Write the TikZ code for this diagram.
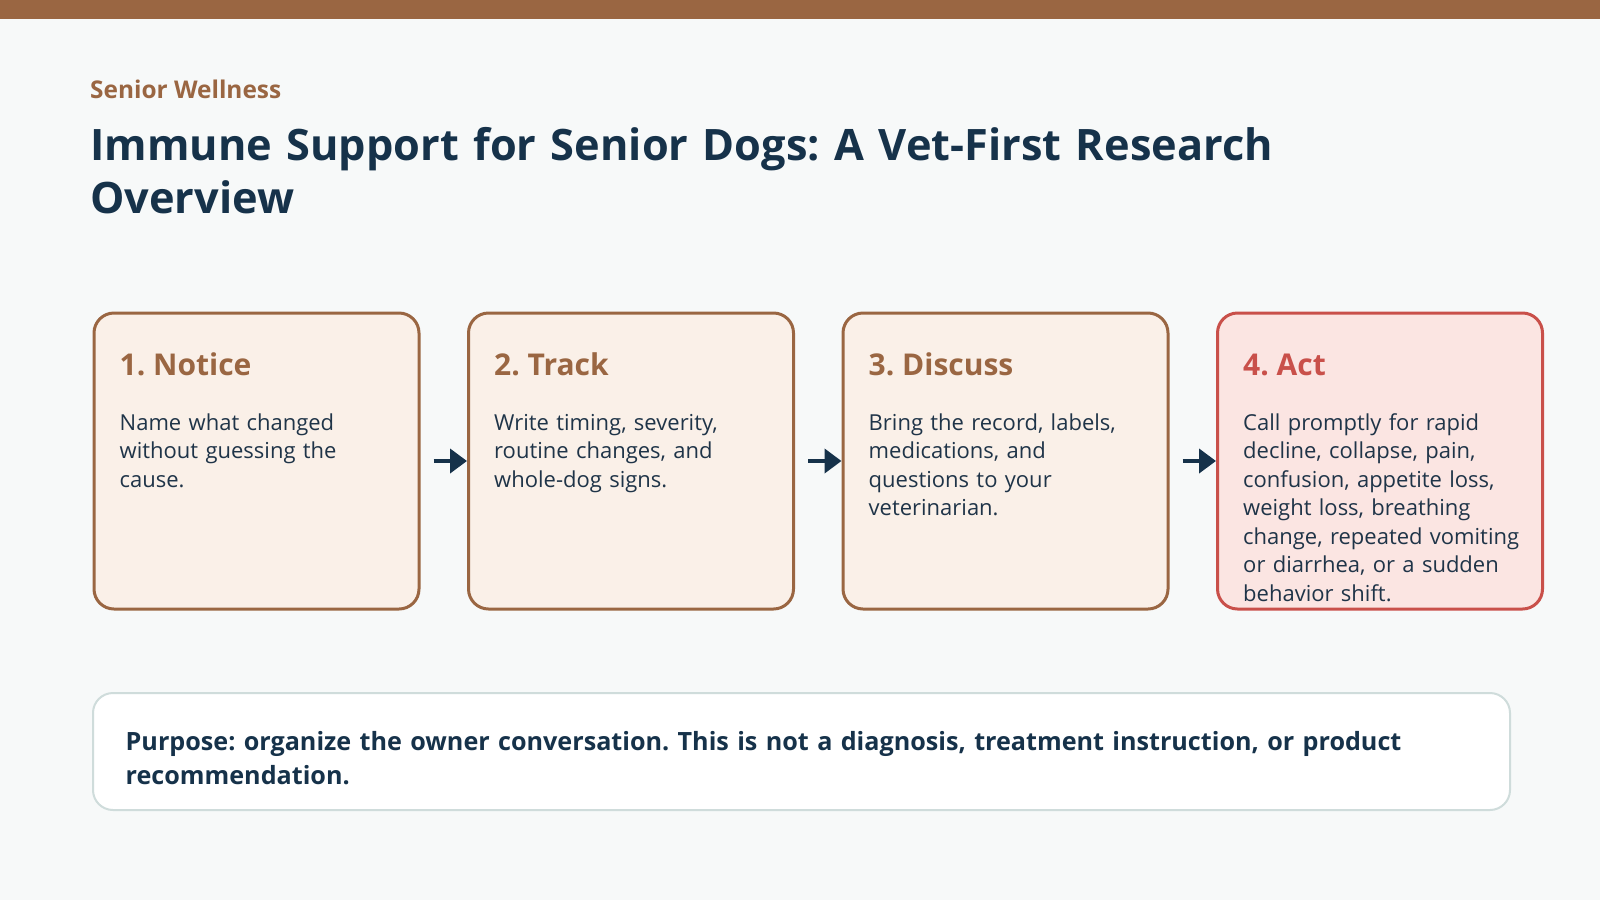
\documentclass[tikz,border=0pt]{standalone}
\usepackage{fontspec}
\setmainfont{Open Sans}
\usetikzlibrary{positioning,arrows.meta,calc}
\definecolor{bark}{HTML}{9A6642}
\definecolor{navy}{HTML}{16324A}
\definecolor{ink}{HTML}{1F3448}
\definecolor{paper}{HTML}{F7F9F9}
\definecolor{peach}{HTML}{FAF0E8}
\definecolor{alert}{HTML}{C9504A}
\definecolor{blush}{HTML}{FBE5E2}
\definecolor{mist}{HTML}{CFDCDB}
\frenchspacing

\begin{document}
\begin{tikzpicture}[x=1pt,y=-1pt,
    stepbox/.style={draw=bark, fill=peach, line width=3pt, rounded corners=20pt,
                    minimum width=325pt, minimum height=296pt, anchor=north west,
                    inner sep=0pt},
    actbox/.style={stepbox, draw=alert, fill=blush},
    head/.style={anchor=base west, inner sep=0pt, text=bark,
                 font=\fontsize{30}{36}\selectfont\bfseries},
    body/.style={anchor=base west, inner sep=0pt, text width=320pt, align=left,
                 text=ink, font=\fontsize{22}{28.5}\selectfont},
    arr/.style={-{Triangle[length=17pt,width=24pt]}, line width=4pt, draw=navy}]
  % page
  \useasboundingbox (0,0) rectangle (1600,900);
  \fill[paper] (0,0) rectangle (1600,900);
  \fill[bark] (0,0) rectangle (1600,19);
  % heading
  \node[anchor=base west, inner sep=0pt, text=bark,
        font=\fontsize{24.4}{28}\selectfont\bfseries] (kicker) at (90,98) {Senior Wellness};
  \node[anchor=base west, inner sep=0pt, text=navy, text width=1400pt, align=left,
        font=\fontsize{43.3}{53}\selectfont\bfseries] (title) at (90,160)
        {Immune Support for Senior Dogs: A Vet-First Research\\Overview};
  % steps
  \node[stepbox] (notice)  at (92.5,311.5)   {};
  \node[stepbox] (track)   at (467,311.5)    {};
  \node[stepbox] (discuss) at (841.5,311.5)  {};
  \node[actbox]  (act)     at (1216,311.5)   {};
  \node[head] (noticeH)  at ([xshift=27pt,yshift=-63.5pt]notice.north west)  {1. Notice};
  \node[head] (trackH)   at ([xshift=27pt,yshift=-63.5pt]track.north west)   {2. Track};
  \node[head] (discussH) at ([xshift=27pt,yshift=-63.5pt]discuss.north west) {3. Discuss};
  \node[head, text=alert] (actH) at ([xshift=27pt,yshift=-63.5pt]act.north west) {4. Act};
  \node[body] (noticeB) at ([xshift=27pt,yshift=-118.5pt]notice.north west)
    {Name what changed\\without guessing the\\cause.};
  \node[body] (trackB) at ([xshift=27pt,yshift=-118.5pt]track.north west)
    {Write timing, severity,\\routine changes, and\\whole-dog signs.};
  \node[body] (discussB) at ([xshift=27pt,yshift=-118.5pt]discuss.north west)
    {Bring the record, labels,\\medications, and\\questions to your\\veterinarian.};
  \node[body] (actB) at ([xshift=27pt,yshift=-118.5pt]act.north west)
    {Call promptly for rapid\\decline, collapse, pain,\\confusion, appetite loss,\\weight loss, breathing\\change, repeated vomiting\\or diarrhea, or a sudden\\behavior shift.};
  \draw[arr] ([xshift=13pt]notice.east)  -- (track.west);
  \draw[arr] ([xshift=13pt]track.east)   -- (discuss.west);
  \draw[arr] ([xshift=13pt]discuss.east) -- (act.west);
  % note
  \node[draw=mist, fill=white, line width=2pt, rounded corners=20pt, anchor=north west,
        minimum width=1417pt, minimum height=117pt, inner sep=0pt] (note) at (92,692) {};
  \node[anchor=base west, inner sep=0pt, text=navy, text width=1360pt, align=left,
        font=\fontsize{25.15}{34}\selectfont\bfseries] (noteT)
        at ([xshift=33.5pt,yshift=-58pt]note.north west)
        {Purpose: organize the owner conversation. This is not a diagnosis, treatment instruction, or product\\recommendation.};
\end{tikzpicture}
\end{document}
